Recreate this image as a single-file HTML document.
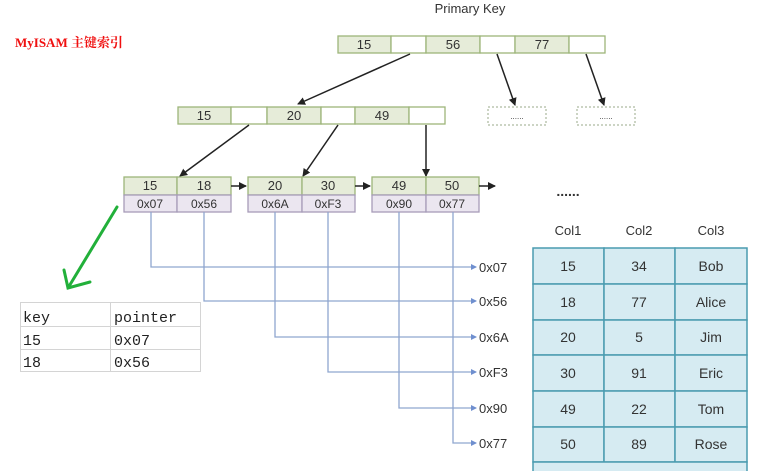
<!DOCTYPE html>
<html><head><meta charset="utf-8"><style>
html,body{margin:0;padding:0;background:#fff}
svg{display:block}
.t{font-family:"Liberation Sans","DejaVu Sans",sans-serif;font-size:13px;fill:#333;text-anchor:middle}
.m{font-family:"Liberation Mono","DejaVu Sans Mono",monospace;font-size:15px;fill:#222}
.g{fill:#e6ecd9;stroke:#9db57a;stroke-width:1.3}
.w{fill:#fff;stroke:#9db57a;stroke-width:1.3}
.p{fill:#ebe6f0;stroke:#a79cb8;stroke-width:1.3}
.c{fill:#d6ebf2;stroke:#4a9bb0;stroke-width:1.5}
.b{stroke:#8fa6cf;stroke-width:1.3;fill:none}
.a{stroke:#222;stroke-width:1.5;fill:none;marker-end:url(#ah)}
</style></head><body>
<svg width="780" height="471" viewBox="0 0 780 471" xmlns="http://www.w3.org/2000/svg">
<defs>
<marker id="ah" markerWidth="8" markerHeight="8" refX="7" refY="4" orient="auto" markerUnits="userSpaceOnUse"><path d="M0,0 L8,4 L0,8 z" fill="#222"/></marker>
<marker id="bh" markerWidth="6" markerHeight="6" refX="5" refY="3" orient="auto" markerUnits="userSpaceOnUse"><path d="M0,0 L6,3 L0,6 z" fill="#6f8fcf"/></marker>
</defs>
<text x="470" y="13" class="t" style="font-size:13px">Primary Key</text>
<text x="15" y="47" style="font-family:'Liberation Serif','Noto Serif CJK SC',serif;font-size:13px;font-weight:bold;fill:#f01010">MyISAM 主键索引</text>

<rect x="338" y="36" width="53" height="17" class="g"/><rect x="391" y="36" width="35" height="17" class="w"/>
<rect x="426" y="36" width="54" height="17" class="g"/><rect x="480" y="36" width="35" height="17" class="w"/>
<rect x="515" y="36" width="54" height="17" class="g"/><rect x="569" y="36" width="36" height="17" class="w"/>
<text x="364" y="49" class="t">15</text><text x="453" y="49" class="t">56</text><text x="542" y="49" class="t">77</text>

<rect x="178" y="107" width="53" height="17" class="g"/><rect x="231" y="107" width="36" height="17" class="w"/>
<rect x="267" y="107" width="54" height="17" class="g"/><rect x="321" y="107" width="34" height="17" class="w"/>
<rect x="355" y="107" width="54" height="17" class="g"/><rect x="409" y="107" width="36" height="17" class="w"/>
<text x="204" y="120" class="t">15</text><text x="294" y="120" class="t">20</text><text x="382" y="120" class="t">49</text>

<rect x="488" y="107" width="58" height="18" fill="none" stroke="#9aa88a" stroke-dasharray="2,2"/>
<rect x="577" y="107" width="58" height="18" fill="none" stroke="#9aa88a" stroke-dasharray="2,2"/>
<text x="517" y="119" class="t" style="font-size:8px">......</text>
<text x="606" y="119" class="t" style="font-size:8px">......</text>

<line x1="410" y1="54" x2="298" y2="104" class="a"/>
<line x1="497" y1="54" x2="515" y2="105" class="a"/>
<line x1="586" y1="54" x2="604" y2="105" class="a"/>
<line x1="249" y1="125" x2="180" y2="176" class="a"/>
<line x1="338" y1="125" x2="303" y2="176" class="a"/>
<line x1="426" y1="125" x2="426" y2="176" class="a"/>

<g>
<rect x="124" y="177" width="53" height="18" class="g"/><rect x="177" y="177" width="54" height="18" class="g"/>
<rect x="124" y="195" width="53" height="17" class="p"/><rect x="177" y="195" width="54" height="17" class="p"/>
<rect x="248" y="177" width="54" height="18" class="g"/><rect x="302" y="177" width="53" height="18" class="g"/>
<rect x="248" y="195" width="54" height="17" class="p"/><rect x="302" y="195" width="53" height="17" class="p"/>
<rect x="372" y="177" width="54" height="18" class="g"/><rect x="426" y="177" width="53" height="18" class="g"/>
<rect x="372" y="195" width="54" height="17" class="p"/><rect x="426" y="195" width="53" height="17" class="p"/>
</g>
<text x="150" y="190" class="t">15</text><text x="204" y="190" class="t">18</text>
<text x="275" y="190" class="t">20</text><text x="328" y="190" class="t">30</text>
<text x="399" y="190" class="t">49</text><text x="452" y="190" class="t">50</text>
<text x="150" y="208" class="t" style="font-size:12px">0x07</text><text x="204" y="208" class="t" style="font-size:12px">0x56</text>
<text x="275" y="208" class="t" style="font-size:12px">0x6A</text><text x="328" y="208" class="t" style="font-size:12px">0xF3</text>
<text x="399" y="208" class="t" style="font-size:12px">0x90</text><text x="452" y="208" class="t" style="font-size:12px">0x77</text>
<line x1="231" y1="186" x2="246" y2="186" class="a"/>
<line x1="355" y1="186" x2="370" y2="186" class="a"/>
<line x1="479" y1="186" x2="495" y2="186" class="a"/>
<text x="568" y="196" class="t" style="font-size:14px;font-weight:bold">......</text>

<path d="M151 212 V267 H476" class="b" marker-end="url(#bh)"/>
<path d="M204 212 V301 H476" class="b" marker-end="url(#bh)"/>
<path d="M275 212 V337 H476" class="b" marker-end="url(#bh)"/>
<path d="M328 212 V372 H476" class="b" marker-end="url(#bh)"/>
<path d="M399 212 V408 H476" class="b" marker-end="url(#bh)"/>
<path d="M453 212 V443 H476" class="b" marker-end="url(#bh)"/>
<g class="t" style="text-anchor:start;font-size:13px">
<text x="479" y="272">0x07</text><text x="479" y="306">0x56</text><text x="479" y="342">0x6A</text>
<text x="479" y="377">0xF3</text><text x="479" y="413">0x90</text><text x="479" y="448">0x77</text>
</g>

<g class="t" style="font-size:13px">
<text x="568" y="235">Col1</text><text x="639" y="235">Col2</text><text x="711" y="235">Col3</text>
</g>
<g>
<rect x="533" y="248" width="71" height="36" class="c"/><rect x="604" y="248" width="71" height="36" class="c"/><rect x="675" y="248" width="72" height="36" class="c"/>
<rect x="533" y="284" width="71" height="36" class="c"/><rect x="604" y="284" width="71" height="36" class="c"/><rect x="675" y="284" width="72" height="36" class="c"/>
<rect x="533" y="320" width="71" height="35" class="c"/><rect x="604" y="320" width="71" height="35" class="c"/><rect x="675" y="320" width="72" height="35" class="c"/>
<rect x="533" y="355" width="71" height="36" class="c"/><rect x="604" y="355" width="71" height="36" class="c"/><rect x="675" y="355" width="72" height="36" class="c"/>
<rect x="533" y="391" width="71" height="36" class="c"/><rect x="604" y="391" width="71" height="36" class="c"/><rect x="675" y="391" width="72" height="36" class="c"/>
<rect x="533" y="427" width="71" height="35" class="c"/><rect x="604" y="427" width="71" height="35" class="c"/><rect x="675" y="427" width="72" height="35" class="c"/>
<rect x="533" y="462" width="214" height="20" class="c"/>
</g>
<g class="t" style="font-size:14px">
<text x="568" y="271">15</text><text x="639" y="271">34</text><text x="711" y="271">Bob</text>
<text x="568" y="307">18</text><text x="639" y="307">77</text><text x="711" y="307">Alice</text>
<text x="568" y="342">20</text><text x="639" y="342">5</text><text x="711" y="342">Jim</text>
<text x="568" y="378">30</text><text x="639" y="378">91</text><text x="711" y="378">Eric</text>
<text x="568" y="414">49</text><text x="639" y="414">22</text><text x="711" y="414">Tom</text>
<text x="568" y="449">50</text><text x="639" y="449">89</text><text x="711" y="449">Rose</text>
</g>

<path d="M117 207 L68 288 M64 270 L68 288 L90 282" stroke="#22b03a" stroke-width="3" fill="none" stroke-linecap="round"/>

<g stroke="#d4d4d4" stroke-width="1" fill="none">
<rect x="20.5" y="302.5" width="180" height="69"/>
<line x1="20" y1="326.5" x2="201" y2="326.5"/><line x1="20" y1="349.5" x2="201" y2="349.5"/>
<line x1="110.5" y1="302" x2="110.5" y2="372"/>
</g>
<text x="23" y="322" class="m">key</text><text x="114" y="322" class="m">pointer</text>
<text x="23" y="345" class="m">15</text><text x="114" y="345" class="m">0x07</text>
<text x="23" y="367" class="m">18</text><text x="114" y="367" class="m">0x56</text>
</svg>
</body></html>
